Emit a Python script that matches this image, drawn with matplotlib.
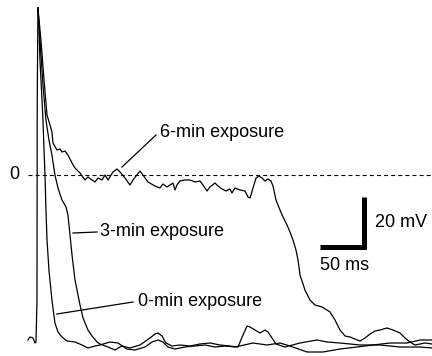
import matplotlib
matplotlib.use('Agg')

import matplotlib.pyplot as plt

plt.rcParams['font.family'] = ['Liberation Sans', 'DejaVu Sans']

#-- data (time in ms, membrane potential in mV) --#
UP_T = [-10.2, -8.0, -4.5, -2.3, -1.1, 0.0, 0.3, 1.1]
UP_V = [-66.0, -64.8, -65.2, -67.2, -66.8, -50.0, 30.0, 66.8]

T_0MIN = [2.3, 3.4, 5.7, 6.8, 8.0, 9.1, 10.2, 11.4, 13.6, 17.0, 20.4, 23.9, 28.4, 34.1,
          43.2, 51.1, 57.9, 65.9, 71.6, 82.9, 92.0, 102.2, 111.3, 122.7, 130.7, 137.5,
          143.1, 148.8, 156.8, 168.1, 179.5, 190.9, 202.2, 213.6, 225.0, 245.4, 261.3,
          276.0, 287.4, 306.7, 324.9, 344.2, 363.5, 381.7, 401.0, 420.3, 435.1, 448.7]
V_0MIN = [58.0, 46.0, 30.0, 22.0, 10.0, 0.0, -14.0, -26.0, -38.0, -50.0, -59.2, -62.8, -64.8, -66.4,
          -66.8, -68.0, -69.2, -68.4, -68.0, -66.8, -67.2, -69.6, -70.0, -68.8, -66.8, -66.0,
          -66.8, -68.8, -69.6, -68.8, -68.4, -68.0, -68.8, -68.4, -68.8, -67.2, -68.0,
          -67.2, -68.4, -70.8, -70.8, -69.6, -68.8, -68.0, -67.2, -67.2, -66.0, -66.0]

T_3MIN = [3.4, 6.8, 10.2, 13.6, 17.0, 20.4, 23.9, 28.4, 33.0, 35.2, 37.5, 39.8, 43.2, 48.9,
          52.3, 57.9, 62.5, 68.2, 71.6, 80.7, 88.6, 96.6, 105.6, 117.0, 128.4, 134.0, 137.5,
          142.0, 146.5, 153.4, 162.4, 173.8, 185.2, 196.5, 207.9, 219.2, 228.3, 234.0, 238.6,
          242.0, 247.6, 253.3, 259.0, 262.4, 267.0, 271.5, 281.7, 298.8, 318.0, 329.4, 344.2,
          366.9, 389.6, 412.4, 435.1, 448.7]
V_3MIN = [54.0, 36.0, 22.0, 14.0, 8.0, 0.0, -5.2, -10.0, -12.8, -16.0, -24.0, -32.0, -42.0, -52.0,
          -57.2, -62.0, -64.4, -66.8, -67.6, -68.8, -70.0, -68.4, -69.2, -68.0, -65.2, -63.6, -63.2,
          -64.4, -67.2, -68.4, -68.0, -68.4, -67.6, -67.2, -68.0, -68.4, -68.8, -64.0, -60.4,
          -60.8, -62.0, -63.2, -62.0, -62.8, -65.2, -67.6, -68.8, -67.2, -66.0, -66.8, -67.2,
          -68.0, -68.0, -68.8, -68.8, -69.2]

T_6MIN = [4.5, 8.0, 11.4, 14.8, 17.0, 18.2, 22.7, 26.1, 28.4, 31.8, 35.2, 39.8, 43.2, 48.9,
          54.5, 57.9, 62.5, 65.9, 69.3, 73.8, 77.3, 80.7, 86.3, 90.9, 94.3, 100.0, 105.6, 109.0,
          117.0, 120.4, 126.1, 134.0, 139.7, 143.1, 147.7, 151.1, 154.5, 156.8, 159.0, 162.4,
          168.1, 173.8, 179.5, 185.2, 188.6, 193.1, 196.5, 202.2, 205.6, 210.2, 214.7, 219.2,
          221.5, 224.9, 230.6, 236.3, 239.7, 242.0, 245.4, 248.8, 252.2, 255.6, 259.0, 262.4,
          265.8, 268.1, 271.5, 276.0, 279.5, 284.0, 287.4, 290.8, 294.2, 296.5, 298.8, 304.4,
          310.1, 315.8, 323.8, 332.9, 338.5, 344.2, 349.9, 355.6, 361.2, 366.9, 372.6, 378.3,
          384.0, 389.6, 397.5, 404.4, 412.4, 418.0, 423.7, 429.4, 435.1, 440.8, 448.7]
V_6MIN = [54.0, 38.0, 24.0, 20.0, 17.2, 12.8, 10.0, 10.4, 9.2, 9.6, 8.0, 4.8, 2.8, 0.8,
          -2.0, -0.8, -2.0, -2.8, -1.2, -2.0, 0.0, -2.0, 1.2, 2.4, 1.2, -1.2, -4.0, -2.0,
          1.6, 0.0, -2.8, -4.4, -5.2, -3.6, -4.8, -4.0, -3.2, -6.0, -4.0, -2.4,
          -2.0, -2.0, -2.8, -2.4, -4.0, -6.4, -4.8, -3.2, -4.4, -5.6, -6.4, -5.6,
          -7.2, -5.2, -6.0, -6.4, -8.8, -9.2, -5.2, -1.2, -0.4, -1.2, -2.4, -1.6,
          -2.4, -4.4, -10.0, -14.0, -16.8, -20.0, -22.8, -26.0, -30.0, -34.0, -40.0, -46.0,
          -50.0, -52.0, -52.8, -54.8, -58.0, -62.0, -64.4, -64.8, -65.6, -66.4, -65.2, -63.6,
          -62.4, -62.0, -61.2, -62.0, -63.2, -65.2, -66.8, -68.0, -67.6, -67.2, -67.6]

LABELS = ['6-min exposure', '3-min exposure', '0-min exposure']
LABEL_POS = [(139.7, 16.8), (71.6, -22.8), (114.7, -50.8)]
LEADERS = [((96.6, 135.2), (3.2, 16.0)), ((40.9, 68.2), (-23.2, -22.8)), ((22.7, 109.0), (-55.6, -50.8))]

SCALE_T = 50   # ms
SCALE_V = 20   # mV
BAR_T0, BAR_V0 = 322, -29

fig = plt.figure(figsize=(4.32, 3.56), dpi=100)
ax = fig.add_axes([0, 0, 1, 1])

# shared upstroke, drawn once
ax.plot(UP_T, UP_V, color='black', lw=0.9)
for t, v in [(T_0MIN, V_0MIN), (T_3MIN, V_3MIN), (T_6MIN, V_6MIN)]:
	ax.plot(UP_T[-1:] + t, UP_V[-1:] + v, color='black', lw=0.9)

#-- zero line --#
ax.plot([-10, 449], [0, 0], color='black', lw=0.8, linestyle=(0, (3.6, 2.8)))
ax.text(-26, 0, '0', fontsize=13, ha='center', va='center')

#-- labels --#
for lab, (x, y), (lx, ly) in zip(LABELS, LABEL_POS, LEADERS):
	ax.plot(lx, ly, color='black', lw=0.9)
	ax.text(x, y, lab, fontsize=13, ha='left', va='center')

#-- scale bar --#
ax.plot([BAR_T0, BAR_T0 + SCALE_T, BAR_T0 + SCALE_T],
		[BAR_V0, BAR_V0, BAR_V0 + SCALE_V],
		color='black', lw=3.6, solid_joinstyle='miter', solid_capstyle='butt')
ax.text(BAR_T0 + SCALE_T + 12, BAR_V0 + SCALE_V / 2, '20 mV', fontsize=13, ha='left', va='center')
ax.text(BAR_T0, BAR_V0 - 7, '50 ms', fontsize=13, ha='left', va='center')

ax.set_xlim(-42.0, 448.7)
ax.set_ylim(-72.4, 70)
ax.axis('off')

plt.savefig('out.png', dpi=100)
